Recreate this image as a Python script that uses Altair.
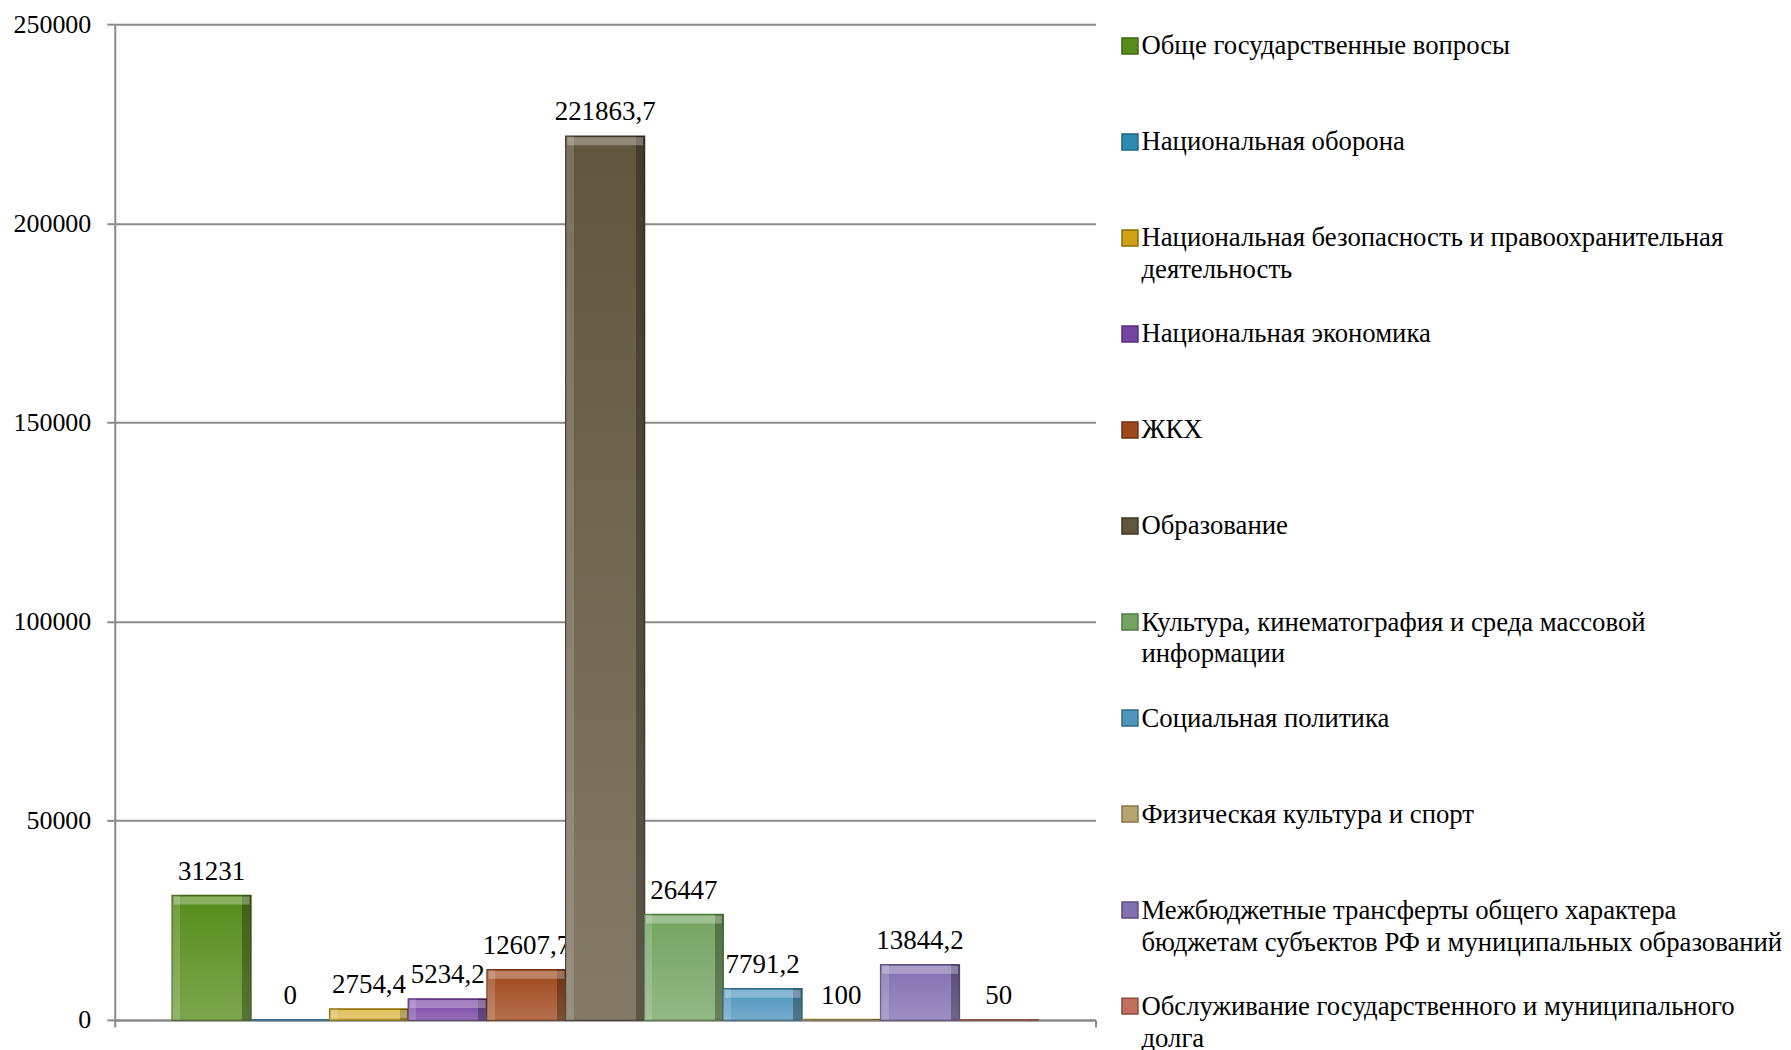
import altair as alt
import pandas as pd

categories = [
    "Обще государственные вопросы",
    "Национальная оборона",
    "Национальная безопасность и правоохранительная деятельность",
    "Национальная экономика",
    "ЖКХ",
    "Образование",
    "Культура, кинематография и среда массовой информации",
    "Социальная политика",
    "Физическая культура и спорт",
    "Межбюджетные трансферты общего характера бюджетам субъектов РФ и муниципальных образований",
    "Обслуживание государственного и муниципального долга",
]
legend_labels = [
    "Обще государственные вопросы",
    "Национальная оборона",
    "Национальная безопасность и правоохранительная\nдеятельность",
    "Национальная экономика",
    "ЖКХ",
    "Образование",
    "Культура, кинематография и среда массовой\nинформации",
    "Социальная политика",
    "Физическая культура и спорт",
    "Межбюджетные трансферты общего характера\nбюджетам субъектов РФ и муниципальных образований",
    "Обслуживание государственного и муниципального\nдолга",
]
values = [31231, 0, 2754.4, 5234.2, 12607.7, 221863.7, 26447, 7791.2, 100, 13844.2, 50]
fill_colors = ["#578d1b", "#2e8bb0", "#cfa213", "#7844a4", "#a0481d", "#62553d",
               "#74a462", "#4d95bd", "#b8a46e", "#8270b0", "#c0705f"]
edge_colors = ["#3e6612", "#1f6585", "#8c6d05", "#55307a", "#6e3010", "#3e3422",
               "#4f7a40", "#2f6a8a", "#857545", "#5a4c80", "#8a4a3f"]
y_ticks = [0, 50000, 100000, 150000, 200000, 250000]


def ru(v):
    if float(v) == int(v):
        return str(int(v))
    return str(v).replace(".", ",")


df = pd.DataFrame({
    "cat": categories,
    "value": values,
    "label": [ru(v) for v in values],
    "legend": legend_labels,
    "grp": [""] * len(categories),
})

FONT = "Liberation Serif"
GRAY = "#8a8a8a"
color_scale = alt.Scale(domain=categories, range=fill_colors)
stroke_scale = alt.Scale(domain=categories, range=edge_colors)

x_enc = alt.X("grp:N", title=None,
              scale=alt.Scale(paddingInner=0, paddingOuter=0),
              axis=alt.Axis(labels=False, ticks=True, tickBand="extent", tickSize=7,
                            tickColor=GRAY, tickWidth=2, domainColor=GRAY, domainWidth=2,
                            grid=False, title=None))
xo_enc = alt.XOffset("cat:N", sort=categories,
                     scale=alt.Scale(paddingInner=0, paddingOuter=0.73))
y_enc = alt.Y("value:Q", title=None,
              scale=alt.Scale(domain=[0, 250000], nice=False),
              axis=alt.Axis(values=y_ticks, format="d", labelFont=FONT, labelFontSize=26,
                            labelColor="black", labelPadding=16, tickSize=8, tickColor=GRAY,
                            tickWidth=2, domainColor=GRAY, domainWidth=2, gridColor=GRAY,
                            gridWidth=2))

base = alt.Chart(df).encode(x=x_enc, xOffset=xo_enc, y=y_enc)

labels = base.mark_text(font=FONT, fontSize=27, color="black", baseline="alphabetic",
                        dy=-16).encode(text="label:N")

bars = base.mark_bar(strokeWidth=1.5).encode(
    color=alt.Color("cat:N", scale=color_scale, legend=None),
    stroke=alt.Stroke("cat:N", scale=stroke_scale, legend=None),
)

vgrad = alt.Gradient(
    gradient="linear", x1=0, x2=0, y1=0, y2=1,
    stops=[alt.GradientStop(color="rgba(255,255,255,0)", offset=0),
           alt.GradientStop(color="rgba(255,255,255,0.22)", offset=1)],
)
shade_v = base.mark_bar(fill=vgrad)

hgrad = alt.Gradient(
    gradient="linear", x1=0, x2=1, y1=0, y2=0,
    stops=[alt.GradientStop(color="rgba(255,255,255,0.16)", offset=0),
           alt.GradientStop(color="rgba(255,255,255,0.16)", offset=0.1),
           alt.GradientStop(color="rgba(255,255,255,0)", offset=0.1),
           alt.GradientStop(color="rgba(0,0,0,0)", offset=0.89),
           alt.GradientStop(color="rgba(0,0,0,0.3)", offset=0.89),
           alt.GradientStop(color="rgba(0,0,0,0.3)", offset=1)],
)
shade_h = base.mark_bar(fill=hgrad)

top_hi = base.mark_tick(color="white", opacity=0.3, thickness=8, size=76,
                        yOffset=5).transform_filter("datum.value > 1000")

bar_chart = alt.layer(labels, bars, shade_v, shade_h, top_hi).properties(width=983, height=998)

leg_base = alt.Chart(df).encode(
    y=alt.Y("cat:N", sort=categories, title=None,
            scale=alt.Scale(type="point", padding=0.2266), axis=None)
)
swatch = leg_base.mark_square(size=256, opacity=1, strokeWidth=1.5).encode(
    x=alt.value(12.5),
    color=alt.Color("cat:N", scale=color_scale, legend=None),
    stroke=alt.Stroke("cat:N", scale=stroke_scale, legend=None),
)
leg_text = leg_base.mark_text(font=FONT, fontSize=26.8, align="left", baseline="alphabetic",
                              dy=8.5, lineBreak="\n", lineHeight=32, color="black").encode(
    x=alt.value(24), text="legend:N")
legend_chart = alt.layer(swatch, leg_text).properties(width=630, height=1006)

chart = alt.hconcat(bar_chart, legend_chart, spacing=21).resolve_scale(
    y="independent", color="shared", stroke="shared"
).properties(
    padding={"left": 5, "top": 2, "right": 0, "bottom": 0}
).configure_view(strokeWidth=0)

chart.save("out.html", embed_options={"renderer": "svg", "actions": False})
